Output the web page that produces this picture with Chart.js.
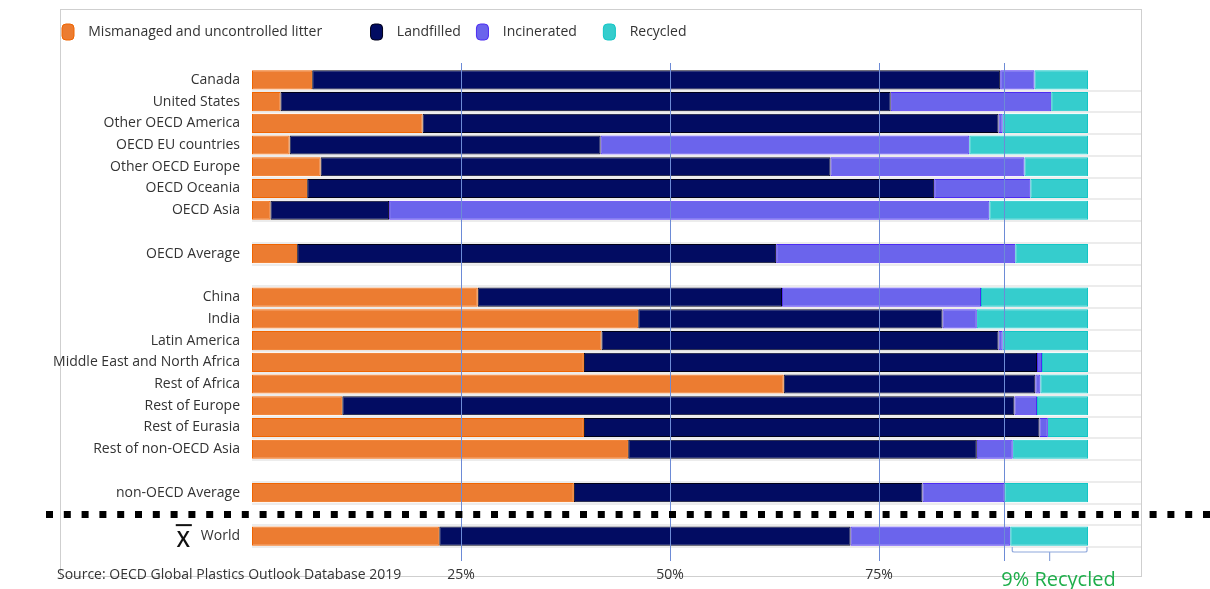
<!DOCTYPE html>
<html>
<head>
<meta charset="utf-8">
<script src="https://cdn.jsdelivr.net/npm/chart.js@4.4.1/dist/chart.umd.min.js"></script>
<style>
  html, body { margin: 0; padding: 0; background: #fff; }
  #wrap { position: relative; width: 1210px; height: 589px; overflow: hidden; }
  #frame { position: absolute; left: 60px; top: 9px; width: 1080px; height: 566px; border: 1px solid #cfcfcf; }
  #chart { position: absolute; left: 0; top: 0; }
  #source { position: absolute; left: 57px; top: 564px; font: 14px 'Open Sans', sans-serif; color: #333; white-space: nowrap; }
</style>
</head>
<body>
<div id="wrap">
  <div id="frame"></div>
  <canvas id="chart" width="1210" height="589"></canvas>
  <div id="source">Source: OECD Global Plastics Outlook Database 2019</div>
</div>
<script>
// ---- data (percent of plastic waste) ----
const categories = ['Canada','United States','Other OECD America','OECD EU countries','Other OECD Europe','OECD Oceania','OECD Asia','','OECD Average','','China','India','Latin America','Middle East and North Africa','Rest of Africa','Rest of Europe','Rest of Eurasia','Rest of non-OECD Asia','','non-OECD Average','','World'];
const mismanaged  = [7.2, 3.4, 20.4, 4.5, 8.2, 6.6, 2.2, null, 5.4, null, 27.0, 46.2, 41.8, 39.7, 63.6, 10.8, 39.7, 45.0, null, 38.5, null, 22.4];
const landfilled  = [82.3, 73.0, 68.9, 37.2, 61.0, 75.0, 14.2, null, 57.3, null, 36.4, 36.4, 47.5, 54.2, 30.1, 80.4, 54.5, 41.7, null, 41.7, null, 49.2];
const incinerated = [4.1, 19.2, 0.5, 44.1, 23.2, 11.5, 71.8, null, 28.6, null, 23.8, 4.1, 0.5, 0.6, 0.6, 2.7, 1.0, 4.3, null, 9.8, null, 19.1];
const recycled    = [6.4, 4.4, 10.2, 14.2, 7.6, 6.9, 11.8, null, 8.7, null, 12.8, 13.3, 10.2, 5.5, 5.7, 6.1, 4.8, 9.0, null, 10.0, null, 9.3];
const seriesNames = ['Mismanaged and uncontrolled litter', 'Landfilled', 'Incinerated', 'Recycled'];
const xTickValues = [25, 50, 75, 90];
const xTickLabels = ['25%', '50%', '75%', ''];
const worldLabel = 'World';
const worldMarkText = 'X';
const calloutText = '9% Recycled';

Chart.defaults.font.family = "'Open Sans', sans-serif";
Chart.defaults.font.size = 14;
Chart.defaults.color = '#333';

const legendTrail = [10, 1, 4, 0];

const legendMargin = {
  id: 'legendMargin',
  afterInit(chart) {
    const lg = chart.legend;
    if (lg && !lg._patched) {
      const fit = lg.fit;
      lg.fit = function () { fit.call(this); this.height += 19; };
      lg._patched = true;
    }
  }
};

const overlay = {
  id: 'overlay',
  afterDatasetsDraw(chart) {
    const { ctx, chartArea } = chart;
    const xs = chart.scales.x, ys = chart.scales.y;
    ctx.save();
    // vertical reference lines
    ctx.strokeStyle = '#6d8bd6';
    ctx.lineWidth = 1;
    xTickValues.forEach(v => {
      const x = Math.round(xs.getPixelForValue(v)) + 0.5;
      ctx.beginPath();
      ctx.moveTo(x, chartArea.top - 6);
      ctx.lineTo(x, chartArea.bottom + 14);
      ctx.stroke();
    });
    // dotted separator in gap row before World
    const wi = categories.indexOf(worldLabel);
    const yd = ys.getPixelForValue(wi - 1);
    ctx.strokeStyle = '#000';
    ctx.lineWidth = 7;
    ctx.setLineDash([7, 10.8]);
    ctx.beginPath();
    ctx.moveTo(46, yd);
    ctx.lineTo(chart.width, yd);
    ctx.stroke();
    ctx.setLineDash([]);
    // X-bar mark before World label
    const yw = ys.getPixelForValue(wi);
    ctx.font = "14px 'Open Sans', sans-serif";
    const wW = ctx.measureText(worldLabel).width;
    const xRight = chartArea.left - 12 - wW - 11;
    ctx.font = "600 21px 'Open Sans', sans-serif";
    const xW = ctx.measureText(worldMarkText).width;
    ctx.fillStyle = '#111';
    ctx.textAlign = 'right';
    ctx.textBaseline = 'alphabetic';
    ctx.fillText(worldMarkText, xRight, yw + 10.7);
    ctx.fillRect(xRight - xW - 1, yw - 12, xW + 3, 2);
    // bracket under World recycled segment
    const startV = mismanaged[wi] + landfilled[wi] + incinerated[wi];
    const x0 = xs.getPixelForValue(startV) + 2;
    const x1 = xs.getPixelForValue(startV + recycled[wi]) - 1;
    const yb = chartArea.bottom + 5;
    ctx.strokeStyle = '#8ea7dc';
    ctx.lineWidth = 1.2;
    ctx.beginPath();
    ctx.moveTo(x0, chartArea.bottom);
    ctx.lineTo(x0, yb - 1);
    ctx.quadraticCurveTo(x0, yb, x0 + 2, yb);
    ctx.lineTo(x1 - 2, yb);
    ctx.quadraticCurveTo(x1, yb, x1, yb - 1);
    ctx.lineTo(x1, chartArea.bottom);
    const xm = (x0 + x1) / 2;
    ctx.moveTo(xm, yb);
    ctx.lineTo(xm, yb + 9);
    ctx.stroke();
    // callout text
    ctx.font = "20px 'Open Sans', sans-serif";
    ctx.fillStyle = '#1fae4b';
    ctx.textAlign = 'left';
    ctx.fillText(calloutText, x0 - 11, 586);
    ctx.restore();
  }
};

new Chart(document.getElementById('chart'), {
  type: 'bar',
  data: {
    labels: categories,
    datasets: [
      { label: seriesNames[0], data: mismanaged,  backgroundColor: '#ec7c31', borderColor: '#f06400' },
      { label: seriesNames[1], data: landfilled,  backgroundColor: '#020c62', borderColor: '#000018' },
      { label: seriesNames[2], data: incinerated, backgroundColor: '#6b64ec', borderColor: '#4d2cf2' },
      { label: seriesNames[3], data: recycled,    backgroundColor: '#35cdcd', borderColor: '#12c6c6' }
    ]
  },
  options: {
    indexAxis: 'y',
    responsive: false,
    animation: false,
    datasets: { bar: { borderWidth: 1, borderSkipped: false, barPercentage: 0.88, categoryPercentage: 1 } },
    layout: { padding: { left: 50, right: 69, top: 12, bottom: 0 } },
    plugins: {
      tooltip: { enabled: false },
      legend: {
        position: 'top',
        align: 'start',
        labels: {
          boxWidth: 12,
          boxHeight: 16,
          padding: 12,
          useBorderRadius: true,
          borderRadius: 4,
          color: '#333',
          font: { size: 14 },
          generateLabels(chart) {
            const items = Chart.defaults.plugins.legend.labels.generateLabels(chart);
            items.forEach((it, i) => { it.text = '  ' + it.text + ' '.repeat(legendTrail[i]); });
            return items;
          }
        }
      }
    },
    scales: {
      x: {
        stacked: true,
        min: 0,
        max: 106.34,
        afterBuildTicks(scale) { scale.ticks = xTickValues.map(v => ({ value: v })); },
        afterFit(scale) { scale.height = 42; },
        ticks: { padding: 20, color: '#333', font: { size: 14 }, callback: (v, i) => xTickLabels[i] },
        grid: { display: false, drawTicks: false },
        border: { display: false }
      },
      y: {
        stacked: true,
        afterFit(scale) { scale.width = 202; },
        ticks: { padding: 12, color: '#333', font: { size: 14 }, autoSkip: false },
        grid: {
          drawTicks: false,
          lineWidth: 2,
          color: (c) => c.index === 0 ? 'rgba(0,0,0,0)' : '#ececec'
        },
        border: { display: false }
      }
    }
  },
  plugins: [legendMargin, overlay]
});
</script>
</body>
</html>
